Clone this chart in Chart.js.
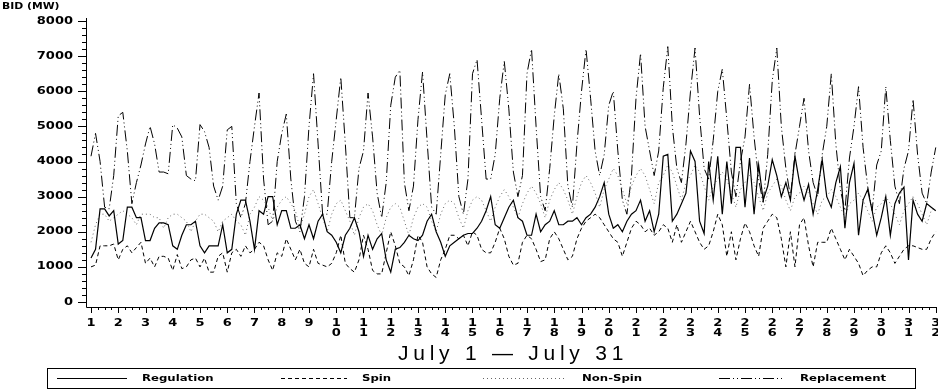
<!DOCTYPE html>
<html>
<head>
<meta charset="utf-8">
<script src="https://cdn.jsdelivr.net/npm/chart.js@4.4.1/dist/chart.umd.min.js"></script>
<style>
  html, body { margin: 0; padding: 0; background: #fff; }
  canvas { display: block; }
</style>
</head>
<body>
<canvas id="chart" width="938" height="390"></canvas>
<script>
// bids sampled every 4 hours (6 per day), July 1 00:00 to Aug 1 00:00
const samplesPerDay = 6;
const dayTicks = [1,2,3,4,5,6,7,8,9,10,11,12,13,14,15,16,17,18,19,20,21,22,23,24,25,26,27,28,29,30,31,32];
const yTicks = [0,1000,2000,3000,4000,5000,6000,7000,8000];
const seriesNames = ["Regulation", "Spin", "Non-Spin", "Replacement"];

const regulation = [
  1250,1500,2650,2650,2450,2600,
  1650,1750,2700,2700,2400,2400,
  1750,1750,2100,2250,2250,2200,
  1600,1500,1900,2200,2200,2300,
  1600,1400,1600,1600,1600,2200,
  1400,1500,2500,2900,2900,2300,
  1500,2600,2500,3000,3000,2200,
  2600,2600,2100,2100,2200,1800,
  2200,1800,2300,2500,2000,1900,
  1700,1400,1900,2100,2400,2000,
  1300,1900,1500,1800,1950,1200,
  850,1500,1550,1700,1900,1800,
  1750,1900,2300,2500,2000,1700,
  1300,1600,1700,1800,1900,1950,
  1950,2100,2300,2600,3000,2200,
  2100,2400,2700,2900,2400,2300,
  1900,1900,2500,2000,2200,2300,
  2600,2200,2200,2300,2300,2400,
  2200,2400,2500,2700,3000,3400,
  2500,2100,2200,2000,2300,2500,
  2600,2900,2300,2600,2000,2500,
  4150,4200,2300,2500,2800,3100,
  4300,4000,2300,1950,4000,2900,
  4150,2500,4000,2800,4400,4400,
  2700,4100,2500,3900,2900,3300,
  4050,3600,3000,3400,2900,4150,
  3400,2900,3350,2500,3200,4050,
  3000,2700,3400,3850,2100,3400,
  3950,1900,2900,3200,2600,1900,
  2400,3000,1900,2800,3100,3270,
  1200,2900,2500,2300,2800,2700,
  2600
];

const spin = [
  1000,1050,1600,1600,1600,1650,
  1200,1500,1600,1400,1550,1700,
  1100,1250,1000,1300,1300,1250,
  900,1350,950,1000,1200,1250,
  1000,1250,850,850,1300,1400,
  850,1400,1500,1300,1600,1400,
  1500,1700,1600,1200,900,1400,
  1300,1800,1500,1200,1500,1100,
  1000,1500,1100,1050,1000,1100,
  1400,1900,1100,950,850,1200,
  1900,1500,900,800,800,1400,
  2000,1600,1100,1000,750,1200,
  1900,1700,1000,800,700,1200,
  1500,1900,1900,1800,1900,1600,
  2000,1900,1500,1400,1400,1700,
  2100,1800,1300,1050,1100,1700,
  1900,1800,1500,1150,1200,1800,
  2000,1800,1500,1200,1300,1800,
  2100,2300,2400,2500,2400,2200,
  2000,1800,1700,1300,1700,2100,
  2300,2200,2000,2100,1900,2000,
  2200,2100,1700,2200,1700,2000,
  2300,2000,1700,1500,1600,2000,
  2500,2200,1300,2000,1200,1800,
  2250,2000,1600,1300,2100,2300,
  2500,2400,1800,1000,2000,1000,
  2200,2400,1600,1000,1700,1700,
  1700,2100,1800,1500,1200,1500,
  1300,1100,750,900,1000,1000,
  1400,1600,1400,1100,1300,1500,
  1600,1600,1550,1500,1500,1800,
  2000
];

const nonSpin = [
  1700,2200,2500,2500,2300,2400,
  2500,2600,2500,2400,2200,2500,
  2500,2500,2400,2400,2100,2400,
  2500,2500,2400,2300,2000,2300,
  2500,2500,2400,2300,2000,2300,
  2400,2500,2300,2200,1900,2500,
  2700,3000,2900,2700,2300,2700,
  2900,3000,2800,2600,2100,2500,
  3000,3200,2800,2400,2000,2500,
  2800,2900,2600,2300,1900,2400,
  2700,2800,2600,2200,1900,2400,
  2700,2800,2700,2300,1900,2400,
  2700,2800,2700,2300,2000,2500,
  2800,2900,2800,2400,2100,2600,
  2900,3000,2900,2600,2300,2700,
  3000,3200,3000,2700,2400,2800,
  3100,3300,3100,2800,2400,2900,
  3200,3400,3200,2900,2500,3000,
  3400,3600,3400,3100,2700,3200,
  3500,3800,3600,3200,2800,3300,
  3600,3800,3600,3200,2800,3400,
  3600,3900,3700,3300,2900,3400,
  3600,3900,3700,3300,2900,3300,
  3500,3700,3500,3100,2700,3200,
  3400,3600,3400,3000,2600,3100,
  3300,3500,3300,2900,2600,3000,
  3100,3300,3100,2800,2500,2900,
  3000,3200,3000,2700,2400,2800,
  2900,3100,2900,2600,2300,2700,
  2800,3000,2800,2500,2200,2600,
  2800,3000,2800,2500,2200,2600,
  2700
];

const replacement = [
  4150,4800,4000,2700,2650,3600,
  5300,5400,4300,2800,3400,3900,
  4500,5000,4500,3700,3700,3650,
  5050,4950,4700,3600,3500,3450,
  5050,4850,4400,3300,2900,3300,
  4900,5000,2800,2400,2800,4000,
  5000,5950,3500,2200,2300,4000,
  4800,5350,3500,2300,2000,3000,
  5000,6500,4500,2500,2500,4000,
  5200,6400,4500,2400,2400,3800,
  4300,5950,4700,3100,2400,3400,
  5600,6400,6600,3400,2600,3300,
  5200,6550,4600,2700,2500,4200,
  5900,6500,5000,3000,2500,3500,
  6500,6900,5200,3500,3500,4200,
  5800,6850,5500,3700,3000,3600,
  6500,7200,5000,3000,2600,3800,
  5300,6500,5500,3300,2700,4500,
  6000,7200,5800,4300,3600,4200,
  5600,6000,4300,2900,2500,3600,
  5800,7080,5000,4300,3600,4300,
  6100,7270,5000,3800,3400,4500,
  6000,7230,5300,3800,3500,4600,
  6000,6630,5200,3700,3000,4000,
  4700,6200,4700,3500,2800,4200,
  6300,7230,5000,3800,3000,4200,
  5000,5800,4300,3400,3000,4200,
  5000,6500,4500,3200,2600,4100,
  5000,6130,4400,3300,2600,3900,
  4300,6130,4600,3300,2800,3800,
  4300,5770,4200,3100,2800,3700,
  4400
];

const styles = [
  { data: regulation,  dash: [],                  color: "#000", width: 1.2 },
  { data: spin,        dash: [4, 3],              color: "#000", width: 1 },
  { data: nonSpin,     dash: [1, 3],              color: "#666", width: 1 },
  { data: replacement, dash: [11, 3, 1, 3, 1, 3], color: "#000", width: 1 }
];

const pxPerDay = 27.25;
const xMin = 1 - 5 / pxPerDay;
const xMax = xMin + 851 / pxPerDay;

function toPoints(arr) {
  return arr.map((v, i) => ({ x: dayTicks[0] + i / samplesPerDay, y: v }));
}

function wideText(ctx, text, x, y, align, sx) {
  ctx.save();
  ctx.translate(x, y);
  ctx.scale(sx, 1);
  ctx.textAlign = align;
  ctx.fillText(text, 0, 0);
  ctx.restore();
}

const frame = {
  id: "frame",
  afterDraw(chart) {
    const { ctx, scales: { x, y } } = chart;
    const left = chart.chartArea.left;
    const axisY = y.bottom + 5;
    ctx.save();
    ctx.strokeStyle = "#000";
    ctx.fillStyle = "#000";
    ctx.lineWidth = 1;
    ctx.setLineDash([]);

    // axis lines
    ctx.beginPath();
    ctx.moveTo(left + 0.5, y.top - 3);
    ctx.lineTo(left + 0.5, axisY + 0.5);
    ctx.lineTo(chart.chartArea.right, axisY + 0.5);
    ctx.stroke();

    // y ticks
    ctx.beginPath();
    for (let v = 0; v <= 8000; v += 200) {
      const py = Math.round(y.getPixelForValue(v)) + 0.5;
      const len = v % 1000 === 0 ? 8 : 4;
      ctx.moveTo(left - len, py);
      ctx.lineTo(left, py);
    }
    // x ticks
    for (let d = dayTicks[0]; d <= dayTicks[dayTicks.length - 1] + 0.001; d += 0.25) {
      const px = Math.round(x.getPixelForValue(d)) + 0.5;
      const len = Number.isInteger(d) ? 6 : 3;
      ctx.moveTo(px, axisY);
      ctx.lineTo(px, axisY + len);
    }
    ctx.stroke();

    ctx.font = "bold 10px 'DejaVu Sans'";
    ctx.textBaseline = "middle";
    yTicks.forEach(v => {
      wideText(ctx, String(v), left - 13, y.getPixelForValue(v), "right", 1.3);
    });
    dayTicks.forEach(d => {
      const px = x.getPixelForValue(d);
      const s = String(d);
      for (let k = 0; k < s.length; k++) {
        wideText(ctx, s[k], px, 323 + k * 10, "center", 1.3);
      }
    });

    ctx.font = "bold 9px 'DejaVu Sans'";
    wideText(ctx, "BID (MW)", 2, 7, "left", 1.2);

    // axis title, thin face spread out to the reference width
    ctx.font = "21px 'Liberation Sans'";
    const title = "July 1 \u2014 July 31";
    const w = ctx.measureText(title).width;
    ctx.letterSpacing = ((230 - w) / title.length).toFixed(2) + "px";
    ctx.textAlign = "left";
    ctx.fillText(title, 398, 354);
    ctx.letterSpacing = "0px";

    // legend
    ctx.strokeRect(47.5, 368.5, 868, 20);
    const ly = 378.5;
    const items = [[57, 127, 142], [281, 347, 362], [483, 565, 582], [719, 785, 800]];
    ctx.font = "bold 9px 'DejaVu Sans'";
    items.forEach((it, i) => {
      ctx.save();
      ctx.strokeStyle = styles[i].color;
      ctx.setLineDash(styles[i].dash);
      ctx.beginPath();
      ctx.moveTo(it[0], ly);
      ctx.lineTo(it[1], ly);
      ctx.stroke();
      ctx.restore();
      wideText(ctx, seriesNames[i], it[2], ly, "left", 1.3);
    });
    ctx.restore();
  }
};

new Chart(document.getElementById("chart"), {
  type: "line",
  data: {
    datasets: styles.map((s, i) => ({
      label: seriesNames[i],
      data: toPoints(s.data),
      borderColor: s.color,
      borderWidth: s.width,
      borderDash: s.dash,
      pointRadius: 0,
      tension: 0,
      fill: false
    }))
  },
  options: {
    responsive: false,
    animation: false,
    layout: { padding: { left: 86, right: 1, top: 21, bottom: 88 } },
    plugins: { legend: { display: false }, tooltip: { enabled: false } },
    scales: {
      x: { type: "linear", min: xMin, max: xMax, display: false },
      y: { min: 0, max: 8000, display: false }
    }
  },
  plugins: [frame]
});
</script>
</body>
</html>
